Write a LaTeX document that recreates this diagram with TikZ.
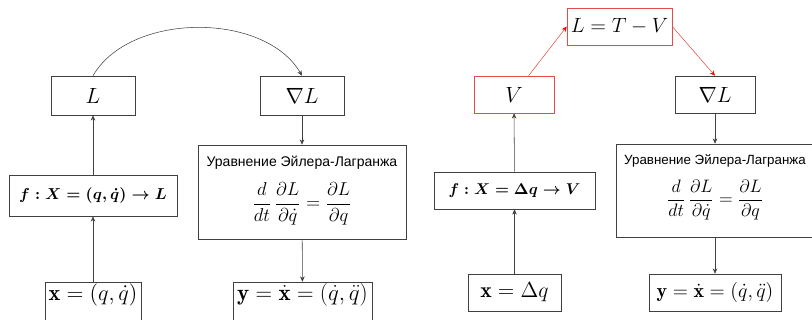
\RequirePackage{fix-cm}
\documentclass[tikz,border=0pt]{standalone}
\usepackage{amsmath,amssymb,amsfonts}
\usepackage{fontspec}
\newfontfamily\rusfont{Liberation Sans}
\usepackage{tikz}
\usetikzlibrary{arrows.meta}
\definecolor{boxred}{RGB}{228,76,76}

\begin{document}
\begin{tikzpicture}[x=0.75pt, y=-0.75pt,
  box/.style={draw=black!75, inner sep=0pt, font=\fontsize{16.5}{19}\selectfont},
  redbox/.style={box, draw=boxred},
  link/.style={draw=black!75, -{Stealth[length=4pt,width=3.4pt]}},
  redlink/.style={draw=boxred, -{Stealth[length=4pt,width=3.4pt,red]}}]
\useasboundingbox (0,0) rectangle (812,320);

% Left: learning L directly
\node[box, minimum width=63pt, minimum height=29.25pt] (lagr) at (93,95.5) {$L$};
\node[box, minimum width=63pt, minimum height=29.25pt] (grad) at (302,95.5) {$\nabla L$};
\node[box, minimum width=126pt, minimum height=30.75pt, font=\fontsize{11.9}{14}\selectfont] (fmap) at (93,195.5) {$\boldsymbol{f:X=(q,\dot q)\to L}$};
\node[box, minimum width=156pt, minimum height=70.5pt] (euler) at (302,192) {};
\node[anchor=base, inner sep=0pt, font=\rusfont\fontsize{10.5}{12}\selectfont] (eulertitle) at (302,167) {Уравнение Эйлера-Лагранжа};
\node[inner sep=0pt, font=\fontsize{14}{16}\selectfont] (eulereq) at (302,204) {$\displaystyle\frac{d}{dt}\,\frac{\partial L}{\partial\dot q}=\frac{\partial L}{\partial q}$};
\node[box, minimum width=72pt, minimum height=31.5pt] (xin) at (93,303) {};
\node[inner sep=0pt, font=\fontsize{16.7}{19}\selectfont] (xintext) at (93,295) {$\mathbf{x}=(q,\dot q)$};
\node[box, minimum width=104.25pt, minimum height=31.5pt] (yout) at (302.5,303) {};
\node[inner sep=0pt, font=\fontsize{17.2}{20}\selectfont] (youttext) at (302.5,295) {$\mathbf{y}=\dot{\mathbf{x}}=(\dot q,\ddot q)$};

\draw[link] (xin) -- (fmap);
\draw[link] (fmap) -- (lagr);
\draw[link] (lagr.north) .. controls +(37,-64) and +(-37,-64) .. (grad.north);
\draw[link] (grad) -- (euler);
\draw[link] (euler) -- (yout);

% Right: learning V, with L = T - V
\node[redbox, minimum width=78.75pt, minimum height=27.75pt, font=\fontsize{15.5}{18}\selectfont] (ltv) at (619.5,26.5) {$L=T-V$};
\node[redbox, minimum width=60pt, minimum height=27.75pt] (pot) at (514,94.5) {$V$};
\node[box, minimum width=60pt, minimum height=27.75pt] (grad2) at (715,94.5) {$\nabla L$};
\node[box, minimum width=120.75pt, minimum height=27.75pt, font=\fontsize{11.7}{14}\selectfont] (fmap2) at (514.5,190.5) {$\boldsymbol{f:X=\Delta q\to V}$};
\node[box, minimum width=148.5pt, minimum height=69.75pt] (euler2) at (715,190.5) {};
\node[anchor=base, inner sep=0pt, font=\rusfont\fontsize{10}{12}\selectfont] (eulertitle2) at (715,165) {Уравнение Эйлера-Лагранжа};
\node[inner sep=0pt, font=\fontsize{13.5}{15}\selectfont] (eulereq2) at (715,200) {$\displaystyle\frac{d}{dt}\,\frac{\partial L}{\partial\dot q}=\frac{\partial L}{\partial q}$};
\node[box, minimum width=69.75pt, minimum height=27.75pt, font=\fontsize{16.3}{19}\selectfont] (xin2) at (514.5,292.5) {$\mathbf{x}=\Delta q$};
\node[box, minimum width=99pt, minimum height=27.75pt, font=\fontsize{15}{18}\selectfont] (yout2) at (715,292.5) {$\mathbf{y}=\dot{\mathbf{x}}=(\dot q,\ddot q)$};

\draw[link] (xin2) -- (fmap2);
\draw[link] (fmap2) -- (pot);
\draw[redlink] (pot) -- (ltv.west);
\draw[redlink] (ltv.east) -- (grad2.north);
\draw[link] (grad2) -- (euler2);
\draw[link] (euler2) -- (yout2);
\end{tikzpicture}
\end{document}
